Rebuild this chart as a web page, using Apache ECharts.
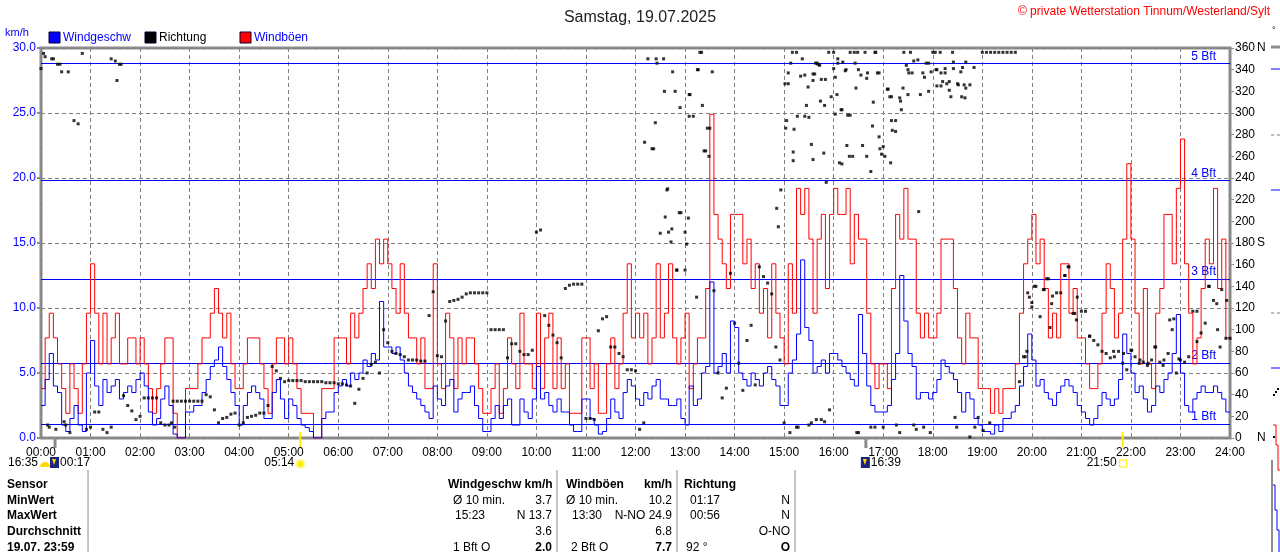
<!DOCTYPE html>
<html lang="de">
<head>
<meta charset="UTF-8">
<title>Wind Samstag, 19.07.2025</title>
<script src="https://cdn.jsdelivr.net/npm/echarts@6.0.0/dist/echarts.min.js"></script>
<style>
  html, body { margin: 0; padding: 0; background: #fff; }
  #chart { width: 1280px; height: 552px; }
</style>
</head>
<body>
<div id="chart"></div>
<script>
// 5-Minuten-Werte ab 00:00, letzter Wert = 24:00
const windgeschw = [
  2.5, 4.5, 6.5, 4.0, 3.5, 1.0, 0.5, 1.5, 2.5, 1.0, 0.5, 5.0,   // 00
  7.5, 4.0, 2.5, 4.5, 3.5, 4.0, 4.5, 3.0, 3.5, 4.0, 3.5, 4.5,   // 01
  5.0, 4.0, 2.0, 1.0, 1.5, 3.0, 4.0, 2.5, 0.3, 0, 0, 2.0,       // 02
  2.0, 2.5, 2.5, 3.5, 4.5, 5.5, 6.0, 7.0, 5.5, 4.5, 3.5, 2.5,   // 03
  1.0, 2.5, 3.5, 4.0, 3.5, 3.0, 1.5, 1.5, 3.5, 4.5, 3.0, 1.5,   // 04
  3.0, 2.5, 1.5, 1.0, 0.8, 0.5, 0, 0, 1.5, 2.0, 2.0, 3.5,       // 05
  4.0, 4.5, 4.0, 5.0, 4.5, 5.0, 6.0, 5.5, 6.5, 6.0, 10.5, 7.0,  // 06
  7.0, 6.5, 7.0, 6.0, 5.0, 4.0, 3.5, 3.0, 2.5, 2.0, 1.5, 4.0,   // 07
  3.0, 2.5, 4.0, 4.5, 2.0, 3.0, 3.5, 3.5, 4.0, 2.5, 1.5, 0.5,   // 08
  0.5, 1.5, 2.5, 1.5, 2.5, 3.0, 1.0, 1.0, 3.0, 2.0, 1.5, 3.0,   // 09
  5.5, 3.0, 3.5, 2.5, 2.0, 3.0, 2.0, 2.0, 1.0, 0.5, 0.5, 3.0,   // 10
  3.0, 1.5, 1.0, 0.3, 0.5, 1.5, 3.0, 2.0, 1.5, 3.5, 4.5, 4.0,   // 11
  3.0, 2.5, 3.5, 3.0, 4.0, 4.5, 3.0, 3.0, 2.5, 2.5, 3.0, 1.5,   // 12
  1.0, 4.0, 2.5, 3.0, 5.0, 5.5, 12.0, 5.0, 5.5, 6.5, 5.0, 9.0,  // 13
  8.5, 5.0, 4.5, 4.0, 5.0, 4.5, 4.0, 5.0, 5.5, 4.5, 4.0, 2.5,   // 14
  2.5, 5.0, 6.0, 8.0, 13.7, 8.5, 7.5, 5.0, 5.5, 6.0, 5.0, 6.5,  // 15
  6.5, 6.0, 5.5, 5.0, 4.5, 4.0, 9.5, 6.5, 4.0, 2.5, 2.0, 2.0,   // 16
  2.0, 2.5, 4.5, 6.5, 12.5, 9.0, 6.5, 5.5, 3.0, 3.5, 3.5, 3.0,  // 17
  3.5, 4.5, 6.0, 5.5, 5.0, 4.5, 3.5, 2.0, 3.5, 3.0, 1.5, 1.0,   // 18
  0.5, 0.5, 0.3, 1.0, 0.5, 1.5, 1.5, 2.0, 2.5, 4.0, 5.5, 8.0,   // 19
  6.0, 4.0, 4.5, 3.5, 3.0, 2.5, 3.5, 4.0, 4.5, 4.0, 3.5, 2.5,   // 20
  2.0, 1.5, 1.0, 1.5, 2.5, 3.5, 3.0, 2.5, 3.0, 4.5, 8.0, 6.5,   // 21
  5.0, 3.5, 4.0, 3.0, 2.0, 2.5, 4.0, 3.5, 4.5, 5.0, 6.5, 9.5,   // 22
  5.0, 2.5, 2.0, 3.0, 3.5, 4.0, 3.5, 3.5, 4.0, 3.5, 3.0, 2.0,   // 23
  2.0
];

const windboeen = [
  3.8, 7.7, 9.6, 7.7, 5.7, 3.8, 1.9, 5.7, 3.8, 1.9, 5.7, 9.6,
  13.4, 9.6, 5.7, 9.6, 5.7, 7.7, 9.6, 5.7, 5.7, 7.7, 7.7, 5.7,
  7.7, 5.7, 3.8, 1.9, 3.8, 5.7, 7.7, 7.7, 1.9, 0, 0, 3.8,
  3.8, 3.8, 5.7, 7.7, 7.7, 9.6, 11.5, 9.6, 7.7, 9.6, 5.7, 3.8,
  3.8, 5.7, 7.7, 7.7, 7.7, 5.7, 3.8, 1.9, 5.7, 7.7, 7.7, 5.7,
  7.7, 5.7, 3.8, 1.9, 1.9, 1.9, 0, 0, 3.8, 3.8, 3.8, 7.7,
  7.7, 7.7, 5.7, 9.6, 7.7, 9.6, 11.5, 13.4, 11.5, 15.3, 13.4, 15.3,
  13.4, 11.5, 9.6, 13.4, 9.6, 7.7, 7.7, 5.7, 7.7, 3.8, 3.8, 13.4,
  5.7, 3.8, 9.6, 7.7, 3.8, 7.7, 5.7, 7.7, 7.7, 5.7, 3.8, 1.9,
  1.9, 3.8, 5.7, 1.9, 3.8, 7.7, 5.7, 3.8, 9.6, 5.7, 5.7, 3.8,
  9.6, 3.8, 7.7, 9.6, 3.8, 7.7, 3.8, 5.7, 1.9, 1.9, 1.9, 7.7,
  7.7, 3.8, 5.7, 1.9, 1.9, 5.7, 7.7, 3.8, 5.7, 9.6, 13.4, 7.7,
  9.6, 7.7, 9.6, 5.7, 7.7, 13.4, 7.7, 9.6, 13.4, 7.7, 5.7, 7.7,
  9.6, 3.8, 5.7, 7.7, 7.7, 11.5, 24.9, 17.2, 15.3, 13.4, 11.5, 17.2,
  17.2, 17.2, 13.4, 15.3, 11.5, 13.4, 9.6, 11.5, 7.7, 13.4, 9.6, 7.7,
  5.7, 13.4, 9.6, 19.2, 17.2, 19.2, 15.3, 9.6, 15.3, 17.2, 11.5, 17.2,
  19.2, 17.2, 17.2, 19.2, 13.4, 17.2, 15.3, 15.3, 9.6, 5.7, 3.8, 5.7,
  5.7, 3.8, 11.5, 17.2, 15.3, 19.2, 15.3, 15.3, 9.6, 7.7, 9.6, 7.7,
  7.7, 9.6, 15.3, 15.3, 15.3, 11.5, 7.7, 5.7, 9.6, 7.7, 7.7, 3.8,
  3.8, 3.8, 1.9, 3.8, 1.9, 3.8, 3.8, 3.8, 5.7, 9.6, 13.4, 15.3,
  17.2, 13.4, 15.3, 11.5, 7.7, 9.6, 7.7, 13.4, 13.4, 9.6, 11.5, 7.7,
  7.7, 5.7, 3.8, 3.8, 5.7, 9.6, 13.4, 11.5, 7.7, 9.6, 15.3, 21.1,
  15.3, 9.6, 5.7, 11.5, 5.7, 3.8, 9.6, 11.5, 17.2, 17.2, 13.4, 19.2,
  23.0, 13.4, 9.6, 5.7, 7.7, 11.5, 15.3, 13.4, 19.2, 11.5, 15.3, 7.7,
  7.7
];

const richtung = [
  341, 352, 10, 350, 345, 338, 12, 5, 293, 290, 355, 8,
  10, 24, 24, 8, 5, 10, 348, 345, 39, 30, 25, 17,
  20, 37, 37, 37, 37, 14, 12, 12, 34, 34, 34, 34,
  34, 34, 34, 34, 40, 38, 26, 14, 18, 19, 22, 23,
  12, 14, 19, 20, 21, 23, 23, 30, 66, 62, 55, 52,
  53, 53, 53, 53, 52, 52, 52, 52, 52, 51, 51, 51,
  50, 50, 49, 48, 32, 45, 55, 60, 68, 70, 60, 100,
  88, 80, 78, 77, 75, 72, 72, 72, 71, 71, 113, 135,
  76, 75, 108, 126, 127, 128, 130, 133, 134, 134, 134, 134,
  134, 100, 100, 100, 100, 74, 87, 87, 80, 77, 77, 81,
  190, 192, 113, 104, 95, 88, 74, 138, 141, 142, 142, 142,
  18, 18, 17, 99, 110, 112, 84, 84, 78, 75, 63, 63,
  62, 8, 14, 350, 267, 350, 189, 320, 190, 338, 155, 208,
  155, 317, 297, 340, 356, 265, 286, 136, 60, 37, 46, 152,
  106, 69, 44, 90, 104, 49, 158, 149, 143, 133, 84, 72,
  14, 327, 356, 10, 334, 297, 12, 336, 346, 17, 331, 26,
  356, 346, 303, 340, 298, 356, 5, 270, 260, 10, 356, 337,
  10, 322, 315, 293, 5, 356, 340, 337, 8, 317, 333, 346,
  356, 340, 325, 337, 329, 341, 327, 315, 347, 326, 342, 19,
  356, 356, 356, 356, 356, 356, 356, 356, 356, 52, 75, 134,
  125, 140, 112, 137, 147, 131, 134, 134, 150, 158, 115, 130,
  117, 117, 94, 90, 86, 80, 78, 74, 75, 80, 69, 63,
  81, 75, 69, 70, 67, 72, 84, 70, 72, 78, 100, 60,
  72, 70, 75, 117, 89, 97, 106, 140, 127, 100, 137, 92,
  92
];

// zusaetzliche Richtungspunkte [Minute, Grad] in den unruhigen Phasen
const richtungStreu = [
  [3,355],[8,12],[13,350],[18,8],[23,345],[28,15],[33,338],[85,350],[92,330],[97,345],[158,14],[162,10],
  [731,273],[742,267],[744,291],[746,346],[754,350],[756,204],[758,229],[759,230],[763,181],[764,193],
  [768,320],[770,155],[773,208],[774,305],[780,190],[782,179],[784,203],
  [785,297],[786,317],[794,130],[796,340],[798,356],[801,307],[803,265],[807,286],[809,260],[813,338],
  [891,212],[893,195],[896,229],
  [901,327],[902,286],[903,293],[905,337],[907,5],[908,346],[911,264],[911,256],[912,285],[915,356],
  [916,297],[917,10],[922,350],[925,335],[927,307],[929,324],[930,296],[933,271],[933,14],[935,330],
  [935,257],[937,336],[938,346],[939,17],[941,345],[943,344],[944,311],[945,331],[948,263],[949,307],
  [949,15],[951,236],[954,356],[957,315],
  [960,341],[962,299],[962,333],[964,317],[965,350],[967,254],[969,303],[970,253],[971,347],[974,339],
  [976,270],[977,298],[979,260],[980,356],[983,260],[986,346],[987,323],[988,5],[989,356],[990,340],
  [993,335],[998,356],[1000,332],[1001,337],[1005,246],[1007,288],[1008,310],[1010,10],[1011,356],
  [1013,337],[1015,278],[1016,267],[1018,262],
  [1020,269],[1022,260],[1026,322],[1028,315],[1029,254],[1030,293],[1031,284],[1035,283],[1036,12],
  [1040,314],[1041,311],[1042,303],[1044,323],[1048,344],[1050,317],[1051,337],[1053,356],[1057,348],
  [1057,12],[1062,349],[1063,209],[1068,337],[1069,10],[1072,346],[1075,320],[1077,5],[1078,338],
  [1083,356],[1084,340],[1085,325],[1089,356],[1090,337],[1092,329],[1095,341],[1097,327],[1100,321],
  [1102,315],[1104,356],[1105,347],[1107,19],[1109,10],[1111,326],[1114,338],[1116,342],[1118,326],
  [1119,314],[1120,323],
  [1125,1],[1131,10],[1141,7],[1149,14],[1192,75],[1194,80],[1197,130],
  [1200,121],[1203,140],[1214,137],[1218,147],[1222,102],[1224,124],[1240,150],[1244,158],[1252,115],
  [1254,109],[1270,94],[1299,80],[1311,78],[1321,81],[1331,72],[1341,69],[1349,84],[1359,67],
  [1367,109],[1372,110],[1378,73],[1400,117],[1414,140],[1424,124],[1428,84],[1436,127]
];

// Beaufort-Grenzen in km/h
const beaufortNamen = ['1 Bft', '2 Bft', '3 Bft', '4 Bft', '5 Bft'];
const beaufortWerte = [1.08, 5.76, 12.24, 19.8, 28.8];

// Sonne / Mond (Minuten)
const sonneMondZeit = [17, 314, 999, 1310];
const sonneMondText = ['00:17', '05:14', '16:39', '21:50'];
const sonneMondArt = ['mond', 'sonne', 'mond', 'sonne'];

// Tabelle unten
const tabZeilen = ['Sensor', 'MinWert', 'MaxWert', 'Durchschnitt', '19.07. 23:59'];
const tabWindL = ['Windgeschw km/h', 'Ø 10 min.', '15:23', '', '1 Bft O'];
const tabWindR = ['', '3.7', 'N 13.7', '3.6', '2.0'];
const tabBoeL = ['Windböen', 'Ø 10 min.', '13:30', '', '2 Bft O'];
const tabBoeR = ['km/h', '10.2', 'N-NO 24.9', '6.8', '7.7'];
const tabRichtL = ['Richtung', '01:17', '00:56', '', '92 °'];
const tabRichtR = ['', 'N', 'N', 'O-NO', 'O'];

const FONT = '"Liberation Sans", Arial, sans-serif';
const BLAU = '#0000ff';
const zeitAchse = arr => arr.map((v, i) => [i * 5, v]);

let chart = echarts.init(document.getElementById('chart'), null, { renderer: 'canvas' });

chart.setOption({
  animation: false,
  backgroundColor: '#fff',
  textStyle: { fontFamily: FONT },
  title: {
    text: 'Samstag, 19.07.2025',
    left: 'center', top: 5,
    textStyle: { fontSize: 16, fontWeight: 'normal', color: '#222', fontFamily: FONT }
  },
  grid: {
    left: 41, top: 48, width: 1189, height: 390,
    show: true, borderColor: '#8c8c8c', borderWidth: 3, backgroundColor: 'transparent'
  },
  xAxis: {
    type: 'value', min: 0, max: 1440, interval: 60,
    axisLine: { show: false },
    axisTick: { show: false },
    axisLabel: {
      color: '#000', fontSize: 12, margin: 9, fontFamily: FONT,
      formatter: v => String(v / 60).padStart(2, '0') + ':00'
    },
    splitLine: { lineStyle: { color: '#808080', type: [4, 3], width: 1 } }
  },
  yAxis: [{
    type: 'value', min: 0, max: 30, interval: 5,
    axisLine: { show: false },
    axisTick: { show: true, length: 4, lineStyle: { color: '#8c8c8c', width: 2 } },
    axisLabel: { color: BLAU, fontSize: 12, margin: 5, fontFamily: FONT, formatter: v => v.toFixed(1) },
    splitLine: { lineStyle: { color: '#808080', type: [4, 3], width: 1 } }
  }, {
    type: 'value', min: 0, max: 360, interval: 20, position: 'right',
    axisLine: { show: false },
    axisTick: { show: true, length: 4, lineStyle: { color: '#8c8c8c', width: 1 } },
    axisLabel: {
      color: '#000', fontSize: 12, margin: 5, fontFamily: FONT,
      formatter: v => v === 0 || v === 360 ? '{z|' + v + '}N' : v === 180 ? '{z|180}S' : String(v),
      rich: { z: { width: 22, fontSize: 12, color: '#000', fontFamily: FONT } }
    },
    splitLine: { show: false }
  }],
  series: [{
    name: 'Windböen', type: 'line', step: 'end', symbol: 'none', z: 2,
    lineStyle: { color: '#ff0000', width: 1 },
    itemStyle: { color: '#ff0000' },
    data: zeitAchse(windboeen),
    markLine: {
      silent: true, symbol: 'none', z: 1,
      itemStyle: { color: BLAU },
      lineStyle: { color: BLAU, width: 1, type: 'solid', opacity: 1 },
      label: {
        position: 'insideEndTop', color: BLAU, fontSize: 12, fontFamily: FONT,
        distance: [14, 1], formatter: p => p.name
      },
      data: beaufortWerte.map((v, i) => ({
        name: beaufortNamen[i], yAxis: v,
        lineStyle: { color: BLAU, width: 1, type: 'solid' }
      }))
    }
  }, {
    name: 'Windgeschw', type: 'line', step: 'end', symbol: 'none', z: 3,
    lineStyle: { color: BLAU, width: 1 },
    itemStyle: { color: BLAU },
    data: zeitAchse(windgeschw)
  }, {
    name: 'Richtung', type: 'scatter', yAxisIndex: 1, symbol: 'rect', symbolSize: 3, z: 4,
    itemStyle: { color: '#000' },
    data: zeitAchse(richtung).concat(richtungStreu)
  }]
});

// Beschriftungen, Legende, Sonne/Mond, Tabelle
const gfx = [];
const txt = (x, y, text, fill, opt = {}) => gfx.push({
  type: 'text', x, y, z: 10,
  style: {
    text, fill, font: (opt.bold ? 'bold ' : '') + (opt.size || 12) + 'px ' + FONT,
    textAlign: opt.align || 'left', align: opt.align || 'left',
    textVerticalAlign: 'middle', verticalAlign: 'middle'
  }
});
const linie = (x1, y1, x2, y2, stroke, w = 1, dash) => gfx.push({
  type: 'line', z: 10, shape: { x1, y1, x2, y2 }, style: { stroke, lineWidth: w, lineDash: dash }
});

txt(5, 33, 'km/h', BLAU, { size: 11 });
txt(1270, 12, '© private Wetterstation Tinnum/Westerland/Sylt', '#ff0000', { align: 'right' });
txt(1272, 31, '°', '#000', { size: 9 });

const legende = [['Windgeschw', BLAU, BLAU, 49], ['Richtung', '#000', '#000', 145], ['Windböen', '#ff0000', BLAU, 240]];
legende.forEach(([name, farbe, textFarbe, x]) => {
  gfx.push({ type: 'rect', z: 10, shape: { x, y: 32, width: 11, height: 11 }, style: { fill: farbe, stroke: '#000033', lineWidth: 1 } });
  txt(x + 14, 38, name, textFarbe);
});

// Sonne / Mond unter der Achse
const xVon = m => chart.convertToPixel({ gridIndex: 0 }, [m, 0])[0];
const yAchse = chart.convertToPixel({ gridIndex: 0 }, [0, 0])[1];
txt(8, 463, '16:35', '#000');
gfx.push({ type: 'sector', z: 10, shape: { cx: 45, cy: 467, r: 5, startAngle: Math.PI, endAngle: 2 * Math.PI }, style: { fill: '#ffd800' } });
sonneMondZeit.forEach((m, i) => {
  const x = xVon(m);
  if (sonneMondArt[i] === 'mond') {
    linie(x, yAchse, x, yAchse + 10, '#8c8c8c', 3);
    gfx.push({ type: 'rect', z: 10, shape: { x: x - 5, y: 457, width: 9, height: 11 }, style: { fill: '#1a237e' } });
    gfx.push({ type: 'polygon', z: 11, shape: { points: [[x - 3, 459], [x + 1, 459], [x - 1, 465]] }, style: { fill: '#ffd800' } });
    txt(x + 5, 463, sonneMondText[i], '#000');
  } else {
    linie(x, yAchse - 6, x, yAchse + 9, '#ffee00', 2);
    if (i === 1) {
      gfx.push({ type: 'circle', z: 10, shape: { cx: x, cy: 464, r: 4 }, style: { fill: '#ffee00', stroke: '#fff6a0', lineWidth: 2 } });
    } else {
      gfx.push({ type: 'rect', z: 10, shape: { x: x - 3, y: 460, width: 7, height: 7 }, style: { fill: 'none', stroke: '#ffee00', lineWidth: 1 } });
    }
    txt(x - 6, 463, sonneMondText[i], '#000', { align: 'right' });
  }
});

// Tabelle
const zeileY = [485, 501, 516, 532, 548];
[88, 557, 677, 795].forEach(x => linie(x, 470, x, 552, '#8c8c8c', 1));
tabZeilen.forEach((t, i) => {
  const y = zeileY[i];
  txt(7, y, t, '#000', { bold: true });
  txt(i === 0 ? 448 : i === 2 ? 455 : 453, y, tabWindL[i], '#000', { bold: i === 0 });
  txt(552, y, tabWindR[i], '#000', { align: 'right', bold: i === 4 });
  txt(i === 0 || i === 1 ? 566 : i === 2 ? 572 : 571, y, tabBoeL[i], '#000', { bold: i === 0 });
  txt(672, y, tabBoeR[i], '#000', { align: 'right', bold: i === 0 || i === 4 });
  txt(i === 0 ? 684 : i === 4 ? 686 : 690, y, tabRichtL[i], '#000', { bold: i === 0 });
  txt(790, y, tabRichtR[i], '#000', { align: 'right', bold: i === 4 });
});

// Anschnitt des naechsten Diagramms am rechten Rand
linie(1271, 47, 1280, 47, '#8c8c8c', 3);
linie(1271, 69, 1280, 69, BLAU, 1);
linie(1271, 135, 1280, 135, '#808080', 1, [3, 3]);
linie(1271, 190, 1280, 190, BLAU, 1);
linie(1271, 313, 1280, 313, '#808080', 1, [3, 3]);
linie(1271, 368, 1280, 368, BLAU, 1);
linie(1272, 460, 1272, 552, '#8c8c8c', 2);
gfx.push({ type: 'polyline', z: 10, shape: { points: [[1273, 425], [1276, 425], [1276, 445], [1278, 445], [1278, 470], [1280, 470]] }, style: { stroke: '#ff0000', lineWidth: 1, fill: 'none' } });
gfx.push({ type: 'polyline', z: 10, shape: { points: [[1273, 485], [1275, 485], [1275, 510], [1277, 510], [1277, 530], [1279, 530], [1279, 552]] }, style: { stroke: BLAU, lineWidth: 1, fill: 'none' } });
[[1274, 395], [1276, 392], [1278, 389], [1274, 437]].forEach(([x, y]) =>
  gfx.push({ type: 'rect', z: 10, shape: { x: x - 1, y: y - 1, width: 2, height: 2 }, style: { fill: '#000' } }));

chart.setOption({ graphic: gfx });
</script>
</body>
</html>
